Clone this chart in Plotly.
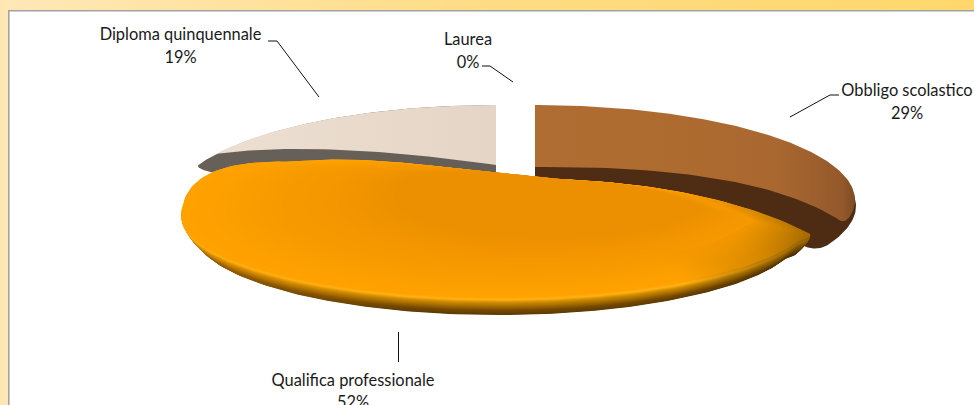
import math
import plotly.graph_objects as go

# ---- data ----
categories = ["Obbligo scolastico", "Qualifica professionale", "Diploma quinquennale", "Laurea"]
values = [29, 52, 19, 0]

W, H = 974, 405

# ---- wedge angles come from the values (clockwise from 12 o'clock) ----
total = sum(values)
angles = {}
acc = 0.0
for c, v in zip(categories, values):
    angles[c] = (acc * 360 / total, (acc + v) * 360 / total)
    acc += v


def rim(a, e):
    cx, cy, rx, ry = e
    t = math.radians(a)
    return (cx + rx * math.sin(t), cy - ry * math.cos(t))


def bez(p0, c, p1, n=40, t0=0.0, t1=1.0):
    out = []
    for i in range(n + 1):
        t = t0 + (t1 - t0) * i / n
        out.append(((1 - t) ** 2 * p0[0] + 2 * t * (1 - t) * c[0] + t * t * p1[0],
                    (1 - t) ** 2 * p0[1] + 2 * t * (1 - t) * c[1] + t * t * p1[1]))
    return out


def arc(a0, a1, e, n=120):
    return [rim(a0 + (a1 - a0) * i / n, e) for i in range(n + 1)]


def wedge_cw(a0, a1, e, apex, ctrl, round_deg=0.0, round_t=1.0):
    """Apex -> up to rim at a0 (sharp) -> arc -> rounded rim corner at a1 -> curved edge back."""
    tip = rim(a1, e)
    pts = [apex] + arc(a0, a1 - round_deg, e)
    back = bez(apex, ctrl, tip, t1=round_t)
    if round_deg:
        pts += bez(rim(a1 - round_deg, e), tip, back[-1], n=20)
    pts += back[::-1]
    return pts


def wedge_ccw(a0, a1, e, apex, ctrl, round_deg=0.0, round_t=1.0):
    """Apex -> up to rim at a1 (sharp) -> arc down to a0 -> rounded corner -> curved edge back."""
    tip = rim(a0, e)
    pts = [apex] + arc(a1, a0 + round_deg, e)
    back = bez(apex, ctrl, tip, t1=round_t)
    if round_deg:
        pts += bez(rim(a0 + round_deg, e), tip, back[-1], n=20)
    pts += back[::-1]
    return pts


def add_poly(fig, pts, colors, stops=None, dy=0.0):
    n = len(colors)
    stops = stops or [i / (n - 1) for i in range(n)]
    fig.add_trace(go.Scatter(
        x=[p[0] for p in pts], y=[p[1] + dy for p in pts],
        mode="lines", line=dict(width=0), fill="toself", hoverinfo="skip",
        fillgradient=dict(type="horizontal", colorscale=[[s, c] for s, c in zip(stops, colors)]),
    ))


def hexrgb(c):
    return tuple(int(c[i:i + 2], 16) for i in (1, 3, 5))


def mix(a, b, t):
    ca, cb = hexrgb(a), hexrgb(b)
    return "#%02x%02x%02x" % tuple(round(ca[i] + (cb[i] - ca[i]) * t) for i in range(3))


fig = go.Figure()

# ---- frame ----
add_poly(fig, [(0, 0), (W, 0), (W, 11), (0, 11)], ["#fee8b8", "#ffdc84", "#ffd76c"], [0, 0.5, 1])
add_poly(fig, [(0, 0), (9, 0), (9, H), (0, H)], ["#fee6b0", "#fee8b8"], [0, 1])
fig.add_trace(go.Scatter(x=[8.8, 8.8, W], y=[H, 10.8, 10.8], mode="lines",
                         line=dict(color="#a3a3a3", width=1.6), hoverinfo="skip"))

# ---- Diploma quinquennale ----
E_BACK = (496, 200, 320, 95)
d0, d1 = angles["Diploma quinquennale"]
add_poly(fig, wedge_ccw(d0, d1, (496, 205, 325, 100), (496, 179), (300, 195), round_deg=2.5, round_t=0.92),
         ["#676058", "#665f58"])
add_poly(fig, wedge_ccw(d0 + 7.5, d1, E_BACK, (496, 165), (320, 140)),
         ["#ecdfd2", "#e8d9ca", "#e5d5c6"], [0, 0.6, 1])

# ---- Obbligo scolastico ----
E_RIGHT = (535, 200, 320, 95)
o0, o1 = angles["Obbligo scolastico"]
add_poly(fig, wedge_cw(o0, o1 + 14, (535, 206, 321, 95), (535, 182), (700, 205), round_deg=4, round_t=0.95),
         ["#4f2d14", "#4e2c13"])
add_poly(fig, wedge_cw(o0, o1, E_RIGHT, (535, 167), (760, 165), round_deg=5, round_t=0.97),
         ["#b06d33", "#ad6b30", "#a96830", "#94592b", "#7e4c25"], [0, 0.45, 0.75, 0.96, 1])

# ---- Qualifica professionale ----
E_FRONT = (498, 215, 317, 82)
q0, q1 = angles["Qualifica professionale"]
APEX = (510, 178)


def qual_outline():
    tip0, tip1 = rim(q0, E_FRONT), rim(q1, E_FRONT)
    tip0 = (tip0[0] + 10, tip0[1] + 1)
    ctrl_r, ctrl_l = (705, 178), (295, 138)
    edge_r = bez(APEX, ctrl_r, tip0, t1=0.97)
    pts = [APEX] + edge_r[1:]
    pts += bez(edge_r[-1], tip0, rim(q0 + 4, E_FRONT), n=16)
    pts += arc(q0 + 4, q1 - 16, E_FRONT)
    back = bez(APEX, ctrl_l, tip1, t1=0.62)
    # the left shoulder: tangent to the rim, running into the rising edge
    pts += bez(rim(q1 - 16, E_FRONT), (tip1[0] - 12, tip1[1] - 26), back[-1], n=30)
    pts += back[::-1]
    return pts


outline = qual_outline()
side_stops = [(18, "#5f3b00"), (14, "#724700"), (10, "#a26a00"), (6, "#d08a00"),
              (3, "#ffb214"), (0, "#ff9f00")]


def side_color(s):
    for (s1, c1), (s2, c2) in zip(side_stops, side_stops[1:]):
        if s2 <= s <= s1:
            return mix(c1, c2, (s1 - s) / (s1 - s2))
    return side_stops[-1][1]


# rounded bevel: every lower layer is also a little narrower, so the edge tapers to the tips
n_side = 36
for i in range(n_side + 1):
    s = 18 * (1 - i / n_side)
    c = side_color(s)
    k = 1 - 0.045 * (s / 18) ** 1.6
    pts = [(498 + (p[0] - 498) * k, p[1]) for p in outline]
    left = mix(c, "#ffa000", 0.3)
    right = mix(c, "#3a2400", 0.55)
    add_poly(fig, pts, [left, c, c, right], [0, 0.35, 0.8, 1], dy=s)

# top face: nested outlines fading from warm orange at the lower left to deeper orange at the centre
FOCUS = (600, 183)
n_top = 30
for i in range(n_top + 1):
    f = i / n_top
    s = 1 - 0.8 * f
    pts = [(FOCUS[0] + (p[0] - FOCUS[0]) * s, FOCUS[1] + (p[1] - FOCUS[1]) * s) for p in outline]
    c = mix("#ffa200", "#ec8f00", min(1, f * 1.5))
    end = mix("#a56a00", c, min(1, f * 3))
    add_poly(fig, pts, [c, c, mix(c, end, 0.5), end], [0, 0.8, 0.93, 1])

# ---- leader lines ----
leaders = [
    ([268, 277, 319], [41, 41, 97]),
    ([482, 490, 513], [66, 66, 82]),
    ([790, 830, 839], [117, 95, 95]),
    ([398.5, 398.5], [332, 362]),
]
for lx, ly in leaders:
    fig.add_trace(go.Scatter(x=lx, y=ly, mode="lines", line=dict(color="#111111", width=1), hoverinfo="skip"))

# ---- labels ----
label_pos = {
    "Diploma quinquennale": (180.5, 36, 59),
    "Laurea": (468, 41, 64),
    "Obbligo scolastico": (907, 92, 115),
    "Qualifica professionale": (353, 382, 404),
}
for c, v in zip(categories, values):
    x, y1, y2 = label_pos[c]
    fig.add_trace(go.Scatter(x=[x, x], y=[y1, y2], mode="text", text=[c, f"{v}%"],
                             textposition="middle center", cliponaxis=False,
                             textfont=dict(family="Lato", size=16.4, color="#1a1a1a"), hoverinfo="skip"))

fig.update_layout(
    width=W, height=H, margin=dict(l=0, r=0, t=0, b=0),
    paper_bgcolor="#ffffff", plot_bgcolor="#ffffff", showlegend=False,
    xaxis=dict(range=[0, W], visible=False, fixedrange=True),
    yaxis=dict(range=[H, 0], visible=False, fixedrange=True),
)
fig.write_html(
    "out.html",
    config={"displayModeBar": False},
    post_script="document.body.style.margin='0';document.documentElement.style.overflow='hidden';",
)
